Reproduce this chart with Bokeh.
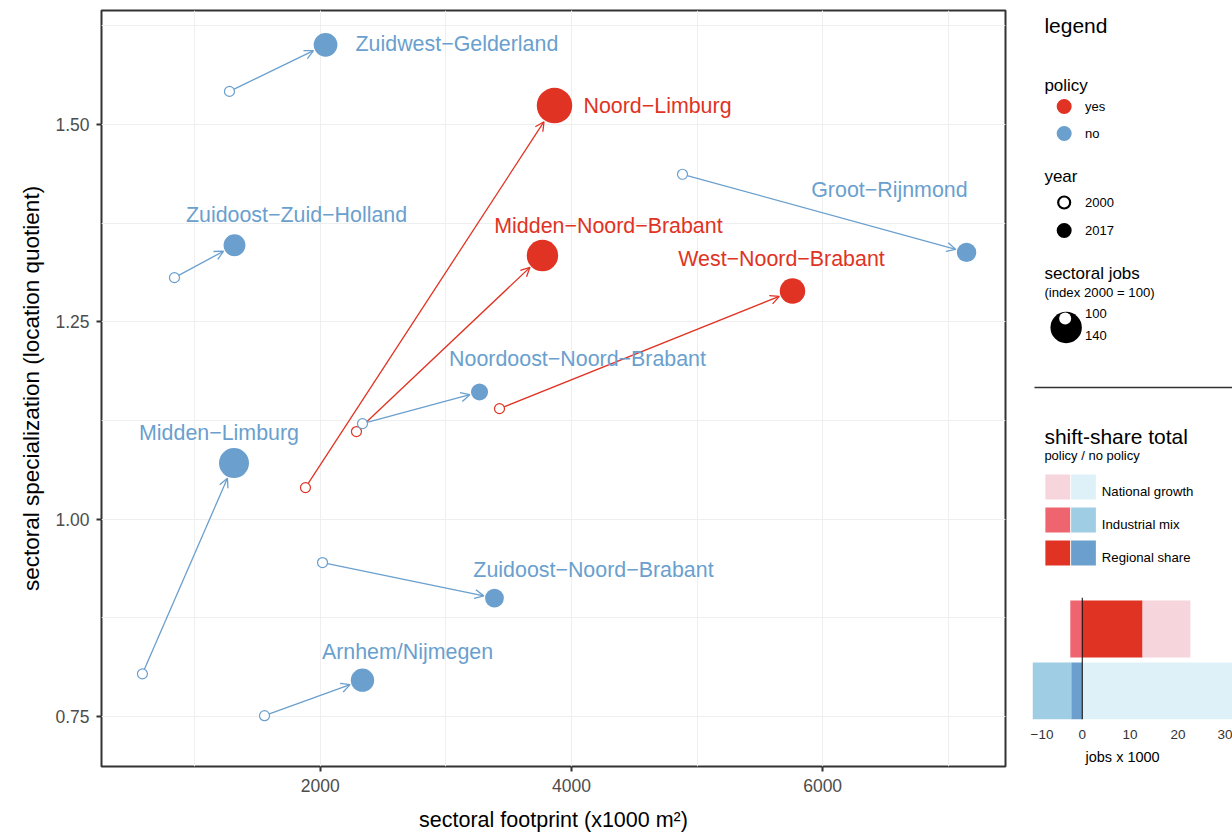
import math
from bokeh.plotting import figure
from bokeh.models import (ColumnDataSource, Arrow, OpenHead, SingleIntervalTicker, FixedTicker,
                          NumeralTickFormatter, Range1d, Span)
from bokeh.layouts import row, column
from bokeh.embed import file_html
from bokeh.resources import INLINE
from bokeh.core.properties import value

# ---------------- data ----------------
regions = ["Zuidwest\u2212Gelderland", "Noord\u2212Limburg", "Groot\u2212Rijnmond",
           "Zuidoost\u2212Zuid\u2212Holland", "Midden\u2212Noord\u2212Brabant", "West\u2212Noord\u2212Brabant",
           "Noordoost\u2212Noord\u2212Brabant", "Midden\u2212Limburg", "Zuidoost\u2212Noord\u2212Brabant",
           "Arnhem/Nijmegen"]
policy = ["no", "yes", "no", "no", "yes", "yes", "no", "no", "no", "no"]
footprint_2000 = [1277, 1882, 4884, 839, 2288, 3427, 2336, 584, 2018, 1556]
lq_2000 = [1.542, 1.040, 1.437, 1.306, 1.111, 1.140, 1.121, 0.804, 0.945, 0.751]
footprint_2017 = [2042, 3865, 7146, 1317, 3769, 5760, 3268, 1313, 3387, 2336]
lq_2017 = [1.601, 1.524, 1.338, 1.347, 1.334, 1.289, 1.161, 1.071, 0.900, 0.796]
jobs_index_2017 = [120, 153, 111, 116, 140, 124, 107, 136, 110, 119]

components = ["National growth", "Industrial mix", "Regional share"]
shift_policy = [10.0, -2.5, 12.6]
shift_nopolicy = [38.0, -9.5, -2.3]
bar_ticks = [-10, 0, 10, 20, 30]

# ---------------- styles ----------------
FONT = "Liberation Sans"
RED = "#E03323"
BLUE = "#6A9FCE"
COL = {"yes": RED, "no": BLUE}
SS_RED = {"National growth": "#F6D6DC", "Industrial mix": "#EE6570", "Regional share": "#E03323"}
SS_BLUE = {"National growth": "#DFF1F8", "Industrial mix": "#9ECDE4", "Regional share": "#6A9FCE"}

# label placement (pixels relative to the 2017 point)
label_place = {
    "Zuidwest\u2212Gelderland": (30, -1, "left"),
    "Noord\u2212Limburg": (29, 0, "left"),
    "Groot\u2212Rijnmond": (1, -62, "right"),
    "Zuidoost\u2212Zuid\u2212Holland": (62, -30, "center"),
    "Midden\u2212Noord\u2212Brabant": (66, -30, "center"),
    "West\u2212Noord\u2212Brabant": (-11, -32, "center"),
    "Noordoost\u2212Noord\u2212Brabant": (98, -33, "center"),
    "Midden\u2212Limburg": (-15, -30, "center"),
    "Zuidoost\u2212Noord\u2212Brabant": (99, -28, "center"),
    "Arnhem/Nijmegen": (45, -28, "center"),
}


def radius(idx):
    return math.sqrt(max(-489 + 5.25 * idx, 1.0))


# ---------------- main figure ----------------
X0, X1 = 258, 7456
Y0, Y1 = 0.6866, 1.6445
FW, FH = 904, 756
SX = FW / (X1 - X0)
SY = FH / (Y1 - Y0)

p = figure(width=1030, height=837, x_range=Range1d(X0, X1), y_range=Range1d(Y0, Y1),
           output_backend="svg", toolbar_location=None,
           min_border_left=101, min_border_right=25, min_border_top=10, min_border_bottom=71)
p.background_fill_color = "white"
p.border_fill_color = "white"
p.outline_line_color = "#333333"
p.outline_line_width = 2

p.xaxis.ticker = SingleIntervalTicker(interval=2000, num_minor_ticks=2)
p.yaxis.ticker = SingleIntervalTicker(interval=0.25, num_minor_ticks=2)
p.yaxis.formatter = NumeralTickFormatter(format="0.00")
p.xaxis.formatter = NumeralTickFormatter(format="0")
for ax in (p.xaxis, p.yaxis):
    ax.axis_line_color = None
    ax.major_tick_line_color = "#333333"
    ax.major_tick_line_width = 2
    ax.major_tick_out = 5
    ax.major_tick_in = 0
    ax.minor_tick_line_color = None
    ax.major_label_text_font = FONT
    ax.major_label_text_font_size = "17.5px"
    ax.major_label_text_color = "#4D4D4D"
    ax.axis_label_text_font = FONT
    ax.axis_label_text_font_style = "normal"
    ax.axis_label_text_color = "black"
    ax.major_label_standoff = 7
p.xaxis.axis_label_text_font_size = "21.5px"
p.yaxis.axis_label_text_font_size = "22.5px"
p.xaxis.axis_label = "sectoral footprint (x1000 m\u00b2)"
p.yaxis.axis_label = "sectoral specialization (location quotient)"
p.xaxis.axis_label_standoff = 13
p.yaxis.axis_label_standoff = 8

for g in (p.xgrid, p.ygrid):
    g.grid_line_color = "#EFEFEF"
    g.grid_line_width = 1
    g.minor_grid_line_color = "#EFEFEF"
    g.minor_grid_line_width = 1

# arrows
for pol in ("yes", "no"):
    xs, ys, xe, ye = [], [], [], []
    for i in range(len(regions)):
        if policy[i] != pol:
            continue
        dxp = (footprint_2017[i] - footprint_2000[i]) * SX
        dyp = (lq_2017[i] - lq_2000[i]) * SY
        L = math.hypot(dxp, dyp)
        cut = radius(jobs_index_2017[i]) + 1.5
        xs.append(footprint_2000[i])
        ys.append(lq_2000[i])
        xe.append(footprint_2017[i] - dxp / L * cut / SX)
        ye.append(lq_2017[i] - dyp / L * cut / SY)
    src = ColumnDataSource(dict(x_start=xs, y_start=ys, x_end=xe, y_end=ye))
    arr = Arrow(end=OpenHead(size=9, line_color=COL[pol], line_width=1.3),
                x_start="x_start", y_start="y_start", x_end="x_end", y_end="y_end",
                source=src, line_color=COL[pol], line_width=1.3, level="underlay")
    p.add_layout(arr)

cols = [COL[v] for v in policy]
src0 = ColumnDataSource(dict(x=footprint_2000, y=lq_2000, c=cols))
p.scatter("x", "y", source=src0, size=10, fill_color="white", line_color="c", line_width=1.2)
src1 = ColumnDataSource(dict(x=footprint_2017, y=lq_2017, c=cols,
                             s=[2 * radius(v) for v in jobs_index_2017]))
p.scatter("x", "y", source=src1, size="s", fill_color="c", line_color=None)

for align in ("left", "center", "right"):
    d = dict(x=[], y=[], t=[], dx=[], dy=[], c=[])
    for i, r in enumerate(regions):
        dx, dy, a = label_place[r]
        if a != align:
            continue
        d["x"].append(footprint_2017[i]); d["y"].append(lq_2017[i]); d["t"].append(r)
        d["dx"].append(dx); d["dy"].append(dy); d["c"].append(COL[policy[i]])
    if d["x"]:
        p.text("x", "y", text="t", x_offset="dx", y_offset="dy", text_color="c",
               source=ColumnDataSource(d), text_align=align, text_baseline="middle",
               text_font=value(FONT), text_font_size="21.4px")

# ---------------- legend panel ----------------
lf = figure(width=202, height=590, x_range=Range1d(1030, 1232), y_range=Range1d(590, 0),
            output_backend="svg", toolbar_location=None, x_axis_type=None, y_axis_type=None,
            min_border=0)
lf.grid.visible = False
lf.outline_line_color = None


def txt(fig, x, y, s, size, color="black", align="left"):
    fig.text(x=[x], y=[y], text=[s], text_font=value(FONT), text_font_size=size,
             text_baseline="middle", text_align=align, text_color=color)


txt(lf, 1042, 25, "legend", "21px")
txt(lf, 1042, 85, "policy", "17px")
lf.scatter(x=[1062, 1062], y=[106, 133], size=15, fill_color=[RED, BLUE], line_color=None)
txt(lf, 1083, 106, "yes", "13px")
txt(lf, 1083, 133, "no", "13px")
txt(lf, 1042, 176, "year", "17px")
lf.scatter(x=[1062], y=[202], size=12, fill_color="white", line_color="black", line_width=2.2)
lf.scatter(x=[1062], y=[230], size=15, fill_color="black", line_color=None)
txt(lf, 1083, 202, "2000", "13px")
txt(lf, 1083, 230, "2017", "13px")
txt(lf, 1042, 273, "sectoral jobs", "17px")
txt(lf, 1042, 292, "(index 2000 = 100)", "13.2px")
lf.scatter(x=[1064], y=[327], size=2 * radius(140), fill_color="black", line_color=None)
lf.scatter(x=[1063], y=[318], size=2 * radius(100), fill_color="white", line_color=None)
txt(lf, 1083, 313, "100", "13px")
txt(lf, 1083, 335, "140", "13px")
lf.segment(x0=[1032], y0=[387], x1=[1232], y1=[387], line_color="#333333", line_width=1.5)

txt(lf, 1042, 436, "shift-share total", "21px")
txt(lf, 1042, 455, "policy / no policy", "13px")
row_tops = [474, 507, 540]
for comp, top in zip(components, row_tops):
    lf.quad(left=[1043], right=[1068], top=[top], bottom=[top + 25], fill_color=SS_RED[comp], line_color=None)
    lf.quad(left=[1069], right=[1094], top=[top], bottom=[top + 25], fill_color=SS_BLUE[comp], line_color=None)
    txt(lf, 1100, top + 17, comp, "13.2px")

# ---------------- shift-share bars ----------------
BH = 152
bf = figure(width=202, height=BH, x_range=Range1d(-10.4, 31.4), y_range=Range1d(0.54, 2.51),
            output_backend="svg", toolbar_location=None, y_axis_type=None,
            min_border_left=2, min_border_right=0, min_border_top=7, min_border_bottom=23)
bf.grid.visible = False
bf.outline_line_color = None
order = ["Regional share", "Industrial mix", "National growth"]
for yv, vals, pal in ((2, shift_policy, SS_RED), (1, shift_nopolicy, SS_BLUE)):
    vmap = dict(zip(components, vals))
    pos, neg = 0.0, 0.0
    L_, R_, C_ = [], [], []
    for comp in order:
        v = vmap[comp]
        if v >= 0:
            L_.append(pos); R_.append(pos + v); pos += v
        else:
            L_.append(neg + v); R_.append(neg); neg += v
        C_.append(pal[comp])
    bf.hbar(y=[yv] * len(L_), left=L_, right=R_, height=0.92, fill_color=C_, line_color=None)
bf.add_layout(Span(location=0, dimension="height", line_color="black", line_width=1))
bf.xaxis.ticker = FixedTicker(ticks=bar_ticks)
bf.xaxis.major_label_overrides = {t: (("\u2212" + str(-t)) if t < 0 else str(t)) for t in bar_ticks}
bf.xaxis.axis_line_color = None
bf.xaxis.major_tick_line_color = None
bf.xaxis.minor_tick_line_color = None
bf.xaxis.major_label_standoff = 4
bf.xaxis.major_label_text_font = FONT
bf.xaxis.major_label_text_font_size = "13.5px"
bf.xaxis.major_label_text_color = "#333333"

# axis title of the bar panel (placed as in the reference, left of the panel centre)
TOP = 590 + BH
tf = figure(width=202, height=837 - TOP, x_range=Range1d(1030, 1232),
            y_range=Range1d(837, TOP), output_backend="svg", toolbar_location=None,
            x_axis_type=None, y_axis_type=None, min_border=0)
tf.grid.visible = False
tf.outline_line_color = None
txt(tf, 1121, 756, "jobs x 1000", "14.5px", align="center")

root = row(p, column(lf, bf, tf))
root.styles = {"position": "absolute", "left": "0px", "top": "0px"}

open("out.html", "w").write(file_html(root, INLINE))
